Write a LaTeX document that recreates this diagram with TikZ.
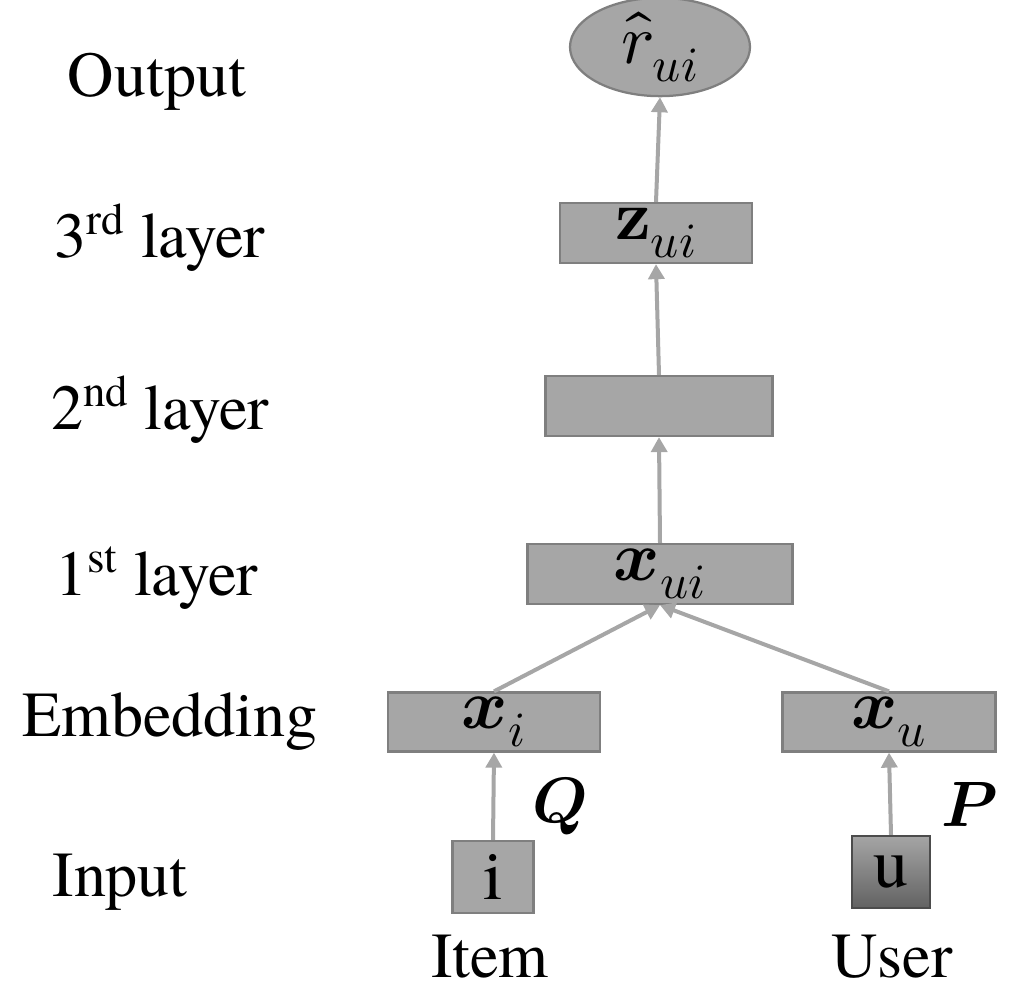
\documentclass[tikz,border=0pt]{standalone}
\usepackage{amsmath}
\usepackage{fontspec}
\usepackage{unicode-math}
\setmainfont{TeX Gyre Termes}
\setmathfont{Latin Modern Math}
\usepackage{tikz}
\usetikzlibrary{shapes.geometric,arrows.meta}

\definecolor{boxgray}{RGB}{166,166,166}
\definecolor{linegray}{RGB}{127,127,127}
\definecolor{arrgray}{RGB}{166,166,166}

\tikzset{
  layerbox/.style={draw=linegray,line width=0.45mm,fill=boxgray,rectangle,inner sep=0pt},
  arr/.style={draw=arrgray,line width=0.8mm,-{Triangle[width=3.2mm,length=3mm]}},
  lbl/.style={font=\fontsize{36.5}{42}\selectfont},
  mlbl/.style={font=\fontsize{40}{46}\selectfont}
}

\begin{document}
\begin{tikzpicture}[x=0.2mm,y=-0.2mm]
\useasboundingbox (0,0) rectangle (1010,985);
% row labels
\node[lbl] (lout) at (157,82) {Output};
\node[lbl] (l3) at (160,238) {3\textsuperscript{rd} layer};
\node[lbl] (l2) at (160,410) {2\textsuperscript{nd} layer};
\node[lbl] (l1) at (157,578) {1\textsuperscript{st} layer};
\node[lbl] (lemb) at (170,722) {Embedding};
\node[lbl] (lin) at (120,882) {Input};
% network
\node[draw=linegray,line width=0.45mm,fill=boxgray,ellipse,inner sep=0pt,minimum width=36mm,minimum height=17mm,mlbl] (rui) at (660,47) {$\hat{r}_{ui}$};
\node[layerbox,minimum width=38.4mm,minimum height=12mm,mlbl] (zui) at (656,233) {$\symbf{z}_{ui}$};
\node[layerbox,minimum width=45.4mm,minimum height=12mm] (h2) at (659,406) {};
\node[layerbox,minimum width=53mm,minimum height=12mm,mlbl] (xui) at (660,574) {$\symbfit{x}_{ui}$};
\node[layerbox,minimum width=42.4mm,minimum height=11.8mm,mlbl] (xi) at (494,722) {$\symbfit{x}_{i}$};
\node[layerbox,minimum width=42.6mm,minimum height=11.8mm,mlbl] (xu) at (889,722) {$\symbfit{x}_{u}$};
\node[layerbox,minimum width=16.2mm,minimum height=14.4mm,mlbl] (item) at (493,877) {i};
\node[draw=linegray!60!black,line width=0.45mm,top color={rgb,255:red,165;green,165;blue,165},bottom color={rgb,255:red,98;green,98;blue,98},rectangle,inner sep=0pt,minimum width=15.6mm,minimum height=14.4mm,mlbl] (user) at (891,872) {u};
% embedding matrices and input names
\node[lbl] (Q) at (560,806) {$\symbfit{Q}$};
\node[lbl] (P) at (970,804) {$\symbfit{P}$};
\node[lbl,inner sep=0pt] (litem) at (490,957) {Item};
\node[lbl,inner sep=0pt] (luser) at (892,957) {User};
% connections
\draw[arr] (item.north) -- (xi.south);
\draw[arr] (user.north) -- (xu.south);
\draw[arr] (xi.north) -- (xui.south);
\draw[arr] (xu.north) -- (xui.south);
\draw[arr] (xui.north) -- (h2.south);
\draw[arr] (h2.north) -- (zui.south);
\draw[arr] (zui.north) -- (rui.south);
\end{tikzpicture}
\end{document}
